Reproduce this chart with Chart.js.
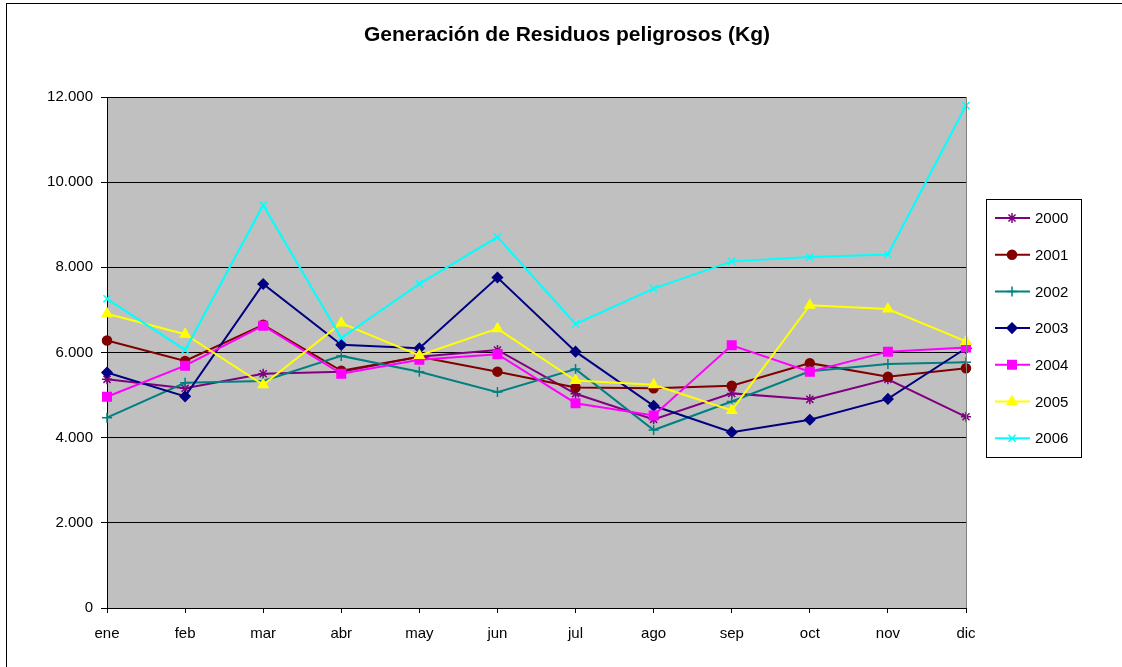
<!DOCTYPE html>
<html>
<head>
<meta charset="utf-8">
<title>Generación de Residuos peligrosos (Kg)</title>
<script src="https://cdn.jsdelivr.net/npm/chart.js@4/dist/chart.umd.min.js"></script>
<style>
  body { margin: 0; background: #fff; }
  #wrap { position: relative; width: 1122px; height: 667px; }
</style>
</head>
<body>
<div id="wrap"><canvas id="myChart" width="1122" height="667"></canvas></div>
<script>
// data (kg per month)
let months = ['ene', 'feb', 'mar', 'abr', 'may', 'jun', 'jul', 'ago', 'sep', 'oct', 'nov', 'dic'];
let years = ['2000', '2001', '2002', '2003', '2004', '2005', '2006'];

let y2000 = [5370, 5160, 5500, 5550, 5900, 6060, 5030, 4430, 5040, 4900, 5370, 4490];
let y2001 = [6280, 5800, 6650, 5570, 5900, 5550, 5180, 5160, 5220, 5750, 5430, 5630];
let y2002 = [4470, 5290, 5330, 5920, 5550, 5070, 5610, 4180, 4850, 5560, 5730, 5770];
let y2003 = [5530, 4970, 7610, 6180, 6100, 7760, 6020, 4750, 4130, 4420, 4910, 6100];
let y2004 = [4960, 5690, 6630, 5500, 5830, 5960, 4810, 4520, 6170, 5550, 6020, 6120];
let y2005 = [6910, 6430, 5240, 6690, 5930, 6560, 5340, 5240, 4640, 7110, 7020, 6260];
let y2006 = [7260, 6060, 9460, 6340, 7610, 8710, 6670, 7500, 8140, 8240, 8300, 11800];

let yTicks = [0, 2000, 4000, 6000, 8000, 10000, 12000];

let allValues = [y2000, y2001, y2002, y2003, y2004, y2005, y2006];
let colors = ['#800080', '#800000', '#008080', '#000080', '#ff00ff', '#ffff00', '#00ffff'];
let markers = ['star', 'circle', 'cross', 'rectRot', 'rect', 'triangle', 'crossRot'];
let markerSize = [5, 4.5, 5, 5, 6, 5.5, 5];

let fontName = '"Liberation Sans", Arial, sans-serif';

function puntos(v) {
    return String(v).replace(/\B(?=(\d{3})+(?!\d))/g, '.');
}

let datasets = years.map((year, i) => ({
    label: year,
    data: allValues[i],
    borderColor: colors[i],
    backgroundColor: colors[i],
    borderWidth: 2,
    pointStyle: markers[i],
    pointRadius: markerSize[i],
    pointBorderWidth: 1.5,
    pointBackgroundColor: colors[i],
    pointBorderColor: colors[i],
    tension: 0,
    order: years.length - i
}));

// grey plot area, frame, title and the boxed legend on the right
let excelLook = {
    id: 'excelLook',
    beforeDraw(chart) {
        let ctx = chart.ctx;
        let a = chart.chartArea;
        ctx.save();
        ctx.fillStyle = '#fff';
        ctx.fillRect(0, 0, chart.width, chart.height);
        ctx.strokeStyle = '#000';
        ctx.lineWidth = 1;
        ctx.strokeRect(6.5, 3.5, 1200, 800);
        ctx.fillStyle = '#c0c0c0';
        ctx.fillRect(a.left, a.top, a.right - a.left, a.bottom - a.top);
        ctx.restore();
    },
    afterDraw(chart) {
        let ctx = chart.ctx;
        let a = chart.chartArea;
        ctx.save();
        // right edge of the plot is grey
        ctx.strokeStyle = '#808080';
        ctx.lineWidth = 1;
        ctx.beginPath();
        ctx.moveTo(Math.round(a.right) + 0.5, a.top);
        ctx.lineTo(Math.round(a.right) + 0.5, a.bottom);
        ctx.stroke();

        // title
        ctx.fillStyle = '#000';
        ctx.font = 'bold 21px ' + fontName;
        ctx.textAlign = 'center';
        ctx.textBaseline = 'middle';
        ctx.fillText('Generación de Residuos peligrosos (Kg)', 567, 35);

        // legend
        ctx.fillStyle = '#fff';
        ctx.fillRect(986, 199, 95, 258);
        ctx.strokeStyle = '#000';
        ctx.strokeRect(986.5, 199.5, 95, 258);
        ctx.font = '15px ' + fontName;
        ctx.textAlign = 'left';
        chart.data.datasets.forEach((ds, i) => {
            let y = 218 + i * 36.7;
            ctx.strokeStyle = ds.borderColor;
            ctx.lineWidth = 2;
            ctx.beginPath();
            ctx.moveTo(995, y);
            ctx.lineTo(1030, y);
            ctx.stroke();
            ctx.fillStyle = ds.borderColor;
            ctx.lineWidth = 1.5;
            Chart.helpers.drawPoint(ctx, {pointStyle: ds.pointStyle, radius: ds.pointRadius, rotation: 0, borderWidth: 1.5}, 1012, y);
            ctx.fillStyle = '#000';
            ctx.fillText(ds.label, 1035, y + 1);
        });
        ctx.restore();
    }
};

let ctx = document.getElementById('myChart').getContext('2d');
let chart = new Chart(ctx, {
    type: 'line',
    data: {
        labels: months,
        datasets: datasets
    },
    options: {
        responsive: false,
        animation: false,
        layout: { padding: { left: 0, top: 97, right: 1122 - 966, bottom: 0 } },
        plugins: {
            legend: { display: false },
            title: { display: false },
            tooltip: { enabled: false }
        },
        scales: {
            x: {
                offset: false,
                grid: { drawOnChartArea: false, drawTicks: true, tickLength: 5, color: '#000' },
                border: { color: '#000', width: 1 },
                ticks: {
                    color: '#000',
                    padding: 12,
                    maxRotation: 0,
                    font: { family: fontName, size: 15 }
                },
                afterFit: scale => { scale.height = 667 - 608; }
            },
            y: {
                min: 0,
                max: 12000,
                afterBuildTicks: scale => { scale.ticks = yTicks.map(v => ({ value: v })); },
                grid: { color: '#000', lineWidth: 1, tickLength: 6, drawTicks: true },
                border: { color: '#000', width: 1 },
                ticks: {
                    color: '#000',
                    padding: 8,
                    callback: v => puntos(v),
                    font: { family: fontName, size: 15 }
                },
                afterFit: scale => { scale.width = 107; }
            }
        }
    },
    plugins: [excelLook]
});
</script>
</body>
</html>
